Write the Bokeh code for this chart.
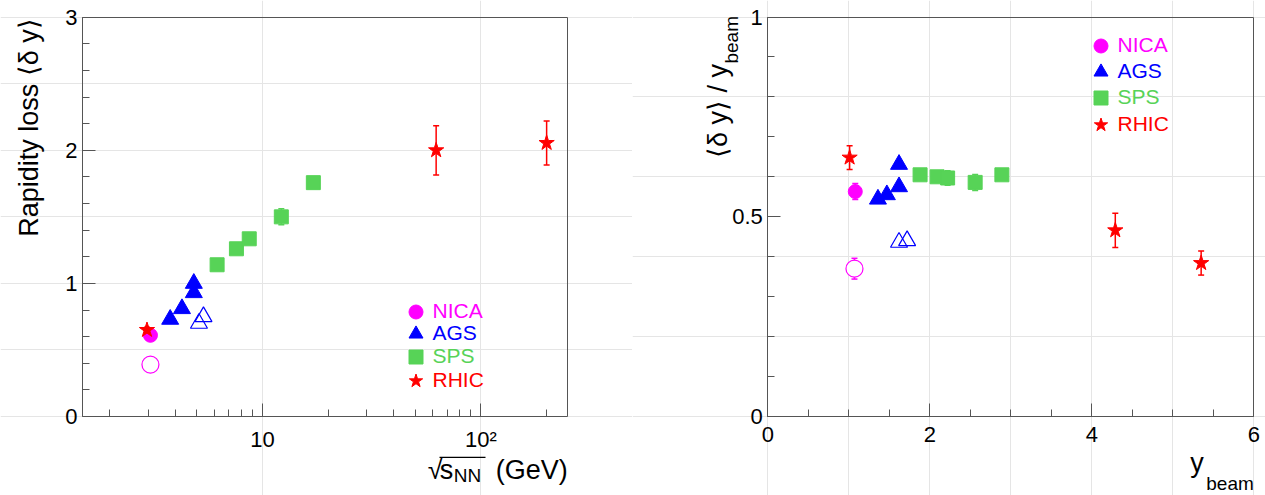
import numpy as np
from math import pi, log10
from bokeh.plotting import figure
from bokeh.layouts import row
from bokeh.models import (FixedTicker, CustomJSTickFormatter, Label, Legend, LegendItem,
                          Whisker, ColumnDataSource, TeeHead, LinearAxis, LogAxis,
                          BoxAnnotation)
from bokeh.embed import file_html
from bokeh.resources import INLINE

# ---------------- data: left panel (rapidity loss vs sqrt(s_NN)) ----------------
nica_sqrts = [3.07]
nica_dy = [0.61]
nica_dy_err = [0.02]
nica_open_sqrts = [3.07]
nica_open_dy = [0.39]
nica_open_dy_err = [0.03]
ags_sqrts = [3.78, 4.28, 4.85, 4.85]
ags_dy = [0.73, 0.81, 0.93, 1.00]
ags_open_sqrts = [5.12, 5.37]
ags_open_dy = [0.70, 0.75]
sps_sqrts = [6.2, 7.6, 8.7, 12.2, 17.1]
sps_dy = [1.14, 1.26, 1.335, 1.50, 1.757]
sps_dy_err = [0.01, 0.01, 0.01, 0.06, 0.01]
rhic_sqrts = [2.96, 62.4, 200.0]
rhic_dy = [0.65, 2.00, 2.055]
rhic_dy_err = [0.02, 0.185, 0.165]

# ---------------- data: right panel (<dy>/y_beam vs y_beam) ----------------
nica_ybeam = [1.08]
nica_ratio = [0.563]
nica_ratio_err = [0.02]
nica_open_ybeam = [1.07]
nica_open_ratio = [0.37]
nica_open_ratio_err = [0.026]
ags_ybeam = [1.36, 1.47, 1.62, 1.62]
ags_ratio = [0.544, 0.555, 0.575, 0.631]
ags_open_ybeam = [1.62, 1.72]
ags_open_ratio = [0.436, 0.44]
sps_ybeam = [1.88, 2.09, 2.22, 2.56, 2.89]
sps_ratio = [0.605, 0.600, 0.597, 0.586, 0.605]
sps_ratio_err = [0.005, 0.005, 0.018, 0.02, 0.005]
rhic_ybeam = [1.01, 4.29, 5.35]
rhic_ratio = [0.648, 0.466, 0.384]
rhic_ratio_err = [0.03, 0.043, 0.03]

legend_names = ["NICA", "AGS", "SPS", "RHIC"]
left_x_bounds = (1.5, 250.0)
left_y_bounds = (0.0, 3.0)
right_x_bounds = (0.0, 6.0)
right_y_bounds = (0.0, 1.0)
left_x_ticks = [10, 100]
left_y_ticks = [0, 1, 2, 3]
right_x_ticks = [0, 2, 4, 6]
right_y_ticks = [0, 0.5, 1]

C_NICA = "#ff00ff"
C_AGS = "#0000ff"
C_SPS = "#57d357"
C_RHIC = "#ff0000"
AX = "#555555"
FONT = "Liberation Sans"
H = 495


def fmt():
    return CustomJSTickFormatter(code="""
if (tick == 100) { return '10\u00b2'; }
return String(Math.round(tick * 1000) / 1000);
""")


def style_axis(ax, ticks=True):
    ax.axis_line_color = AX
    ax.axis_line_width = 1
    ax.major_tick_line_color = AX
    ax.minor_tick_line_color = AX
    ax.major_tick_in = 13
    ax.major_tick_out = 0
    ax.minor_tick_in = 7
    ax.minor_tick_out = 0
    ax.major_label_text_font = FONT
    ax.major_label_text_font_size = "22px"
    ax.major_label_text_color = "black"
    if not ticks:
        ax.major_label_text_alpha = 0
        ax.major_tick_line_color = None
        ax.minor_tick_line_color = None


def make_panel(width, xb, yb, log_x, px_left, px_right, px_top, px_bottom,
               xticker, yticker):
    # the frame covers the whole canvas; the axes sit at the data bounds
    if log_x:
        la, lb = log10(xb[0]), log10(xb[1])
        d = (px_right - px_left) / (lb - la)
        xr = (10 ** (la - px_left / d), 10 ** (lb + (width - px_right) / d))
        px2x = lambda px: 10 ** (la + (px - px_left) / d)
    else:
        d = (px_right - px_left) / (xb[1] - xb[0])
        xr = (xb[0] - px_left / d, xb[1] + (width - px_right) / d)
        px2x = lambda px: xb[0] + (px - px_left) / d
    u = (px_bottom - px_top) / (yb[1] - yb[0])
    yr = (yb[0] - (H - px_bottom) / u, yb[1] + px_top / u)
    py2y = lambda py: yb[0] + (px_bottom - py) / u
    p = figure(width=width, height=H, x_range=xr, y_range=yr,
               x_axis_type="log" if log_x else "linear",
               x_axis_location=None, y_axis_location=None,
               output_backend="svg", toolbar_location=None,
               min_border=0, min_border_left=0, min_border_right=0,
               min_border_top=0, min_border_bottom=0)
    p.outline_line_color = None
    p.background_fill_color = "white"
    p.border_fill_color = "white"
    AxisCls = LogAxis if log_x else LinearAxis
    xa = AxisCls(ticker=xticker, formatter=fmt(), fixed_location=yb[0], bounds=xb)
    style_axis(xa)
    xa.major_label_standoff = 10
    p.add_layout(xa, "below")
    ya = LinearAxis(ticker=yticker, formatter=fmt(), fixed_location=xb[0], bounds=yb)
    style_axis(ya)
    ya.major_label_standoff = 5
    p.add_layout(ya, "left")
    ta = AxisCls(ticker=FixedTicker(ticks=[]), fixed_location=yb[1], bounds=xb)
    style_axis(ta, ticks=False)
    p.add_layout(ta, "above")
    ra = LinearAxis(ticker=FixedTicker(ticks=[]), fixed_location=xb[1], bounds=yb)
    style_axis(ra, ticks=False)
    p.add_layout(ra, "right")
    return p, px2x, py2y


def add_series(p, x, y, err, marker, color, size, filled=True, lw=1.0, white_fill=False):
    x = list(x); y = list(y)
    data = dict(x=x, y=y)
    if err is not None:
        data["lo"] = [a - e for a, e in zip(y, err)]
        data["hi"] = [a + e for a, e in zip(y, err)]
    src = ColumnDataSource(data)
    if err is not None:
        w = Whisker(source=src, base="x", upper="hi", lower="lo", dimension="height",
                    line_color=color, line_width=1.5, level="underlay",
                    upper_head=TeeHead(size=6, line_color=color, line_width=1.5),
                    lower_head=TeeHead(size=6, line_color=color, line_width=1.5))
        p.add_layout(w)
    if filled:
        r = p.scatter("x", "y", source=src, marker=marker, size=size,
                      fill_color=color, line_color=color, line_width=lw)
    else:
        r = p.scatter("x", "y", source=src, marker=marker, size=size,
                      fill_color="white", fill_alpha=1.0 if white_fill else 0.0,
                      line_color=color, line_width=lw)
    return r


def add_legend(p, items, centers):
    g = 35
    for (name, r, color), (xc, yc) in zip(items, centers):
        leg = Legend(items=[LegendItem(label=name, renderers=[r])],
                     location=(xc - g / 2, yc - g / 2), orientation="vertical",
                     label_text_color=color, label_text_font=FONT,
                     label_text_font_size="21px", glyph_width=g, glyph_height=g,
                     label_height=g, label_standoff=0, padding=0, margin=0, spacing=0,
                     border_line_color=None, background_fill_alpha=0)
        p.add_layout(leg)


def lab(p, x, y, text, size, align, xo, yo, angle=0.0):
    p.add_layout(Label(x=x, y=y, text=text, angle=angle, text_align=align,
                       text_baseline="alphabetic", x_offset=xo, y_offset=yo,
                       text_font=FONT, text_font_size=size, text_color="black"))


# ---------------- left panel ----------------
p1, px2x_1, py2y_1 = make_panel(
    632, left_x_bounds, left_y_bounds, True, 82, 567.3, 16.7, 416,
    FixedTicker(ticks=left_x_ticks,
                minor_ticks=list(range(2, 10)) + list(range(20, 100, 10)) + [200]),
    FixedTicker(ticks=left_y_ticks,
                minor_ticks=[round(v, 1) for v in np.arange(0, 3.01, 0.2)]))

add_series(p1, nica_open_sqrts, nica_open_dy, nica_open_dy_err, "circle", C_NICA, 17,
           filled=False, lw=1.2, white_fill=True)
rn = add_series(p1, nica_sqrts, nica_dy, nica_dy_err, "circle", C_NICA, 14)
add_series(p1, ags_open_sqrts, ags_open_dy, None, "triangle", C_AGS, 17, filled=False, lw=1.2)
ra = add_series(p1, ags_sqrts, ags_dy, None, "triangle", C_AGS, 17)
rs = add_series(p1, sps_sqrts, sps_dy, sps_dy_err, "square", C_SPS, 14)
rr = add_series(p1, rhic_sqrts, rhic_dy, rhic_dy_err, "star", C_RHIC, 16)

add_legend(p1, [(legend_names[0], rn, C_NICA), (legend_names[1], ra, C_AGS),
                (legend_names[2], rs, C_SPS), (legend_names[3], rr, C_RHIC)],
           [(415, H - 311), (415, H - 333), (415, H - 356), (415, H - 380)])

xa0, xa1 = left_x_bounds
ya0, ya1 = left_y_bounds
lab(p1, xa0, ya1, "Rapidity loss \u27e8\u03b4 y\u27e9", "27px", "right", -54, -1, pi / 2)
lab(p1, xa1, ya0, "(GeV)", "27px", "right", 0, -53)
lab(p1, xa1, ya0, "NN", "19px", "left", -114, -59)
lab(p1, xa1, ya0, "s", "27px", "left", -128, -53)
lab(p1, xa1, ya0, "\u221a", "27px", "left", -140, -53)
# overline of the square root
p1.add_layout(BoxAnnotation(left=px2x_1(439), right=px2x_1(485), top=py2y_1(456.3),
                            bottom=py2y_1(457.6), fill_color="black", fill_alpha=1.0,
                            line_color=None, level="overlay"))

# ---------------- right panel ----------------
p2, px2x_2, py2y_2 = make_panel(
    633, right_x_bounds, right_y_bounds, False, 135.3, 621.3, 16.5, 416,
    FixedTicker(ticks=right_x_ticks,
                minor_ticks=[round(v, 1) for v in np.arange(0, 6.01, 0.5)]),
    FixedTicker(ticks=right_y_ticks,
                minor_ticks=[round(v, 1) for v in np.arange(0, 1.01, 0.1)]))

add_series(p2, nica_open_ybeam, nica_open_ratio, nica_open_ratio_err, "circle", C_NICA, 17,
           filled=False, lw=1.2, white_fill=True)
rn2 = add_series(p2, nica_ybeam, nica_ratio, nica_ratio_err, "circle", C_NICA, 14)
add_series(p2, ags_open_ybeam, ags_open_ratio, None, "triangle", C_AGS, 17, filled=False, lw=1.2)
ra2 = add_series(p2, ags_ybeam, ags_ratio, None, "triangle", C_AGS, 17)
rs2 = add_series(p2, sps_ybeam, sps_ratio, sps_ratio_err, "square", C_SPS, 14)
rr2 = add_series(p2, rhic_ybeam, rhic_ratio, rhic_ratio_err, "star", C_RHIC, 16)

add_legend(p2, [(legend_names[0], rn2, C_NICA), (legend_names[1], ra2, C_AGS),
                (legend_names[2], rs2, C_SPS), (legend_names[3], rr2, C_RHIC)],
           [(468, H - 45), (468, H - 71), (468, H - 97), (468, H - 124)])

xb0, xb1 = right_x_bounds
yb0, yb1 = right_y_bounds
lab(p2, xb0, yb1, "beam", "19px", "right", -36, 1, pi / 2)
lab(p2, xb0, yb1, "\u27e8\u03b4 y\u27e9 / y", "27px", "right", -50, -47, pi / 2)
lab(p2, xb1, yb0, "beam", "19px", "right", 0, -67)
lab(p2, xb1, yb0, "y", "27px", "right", -50, -46)

layout = row(p1, p2)
open("out.html", "w").write(file_html(layout, INLINE))
